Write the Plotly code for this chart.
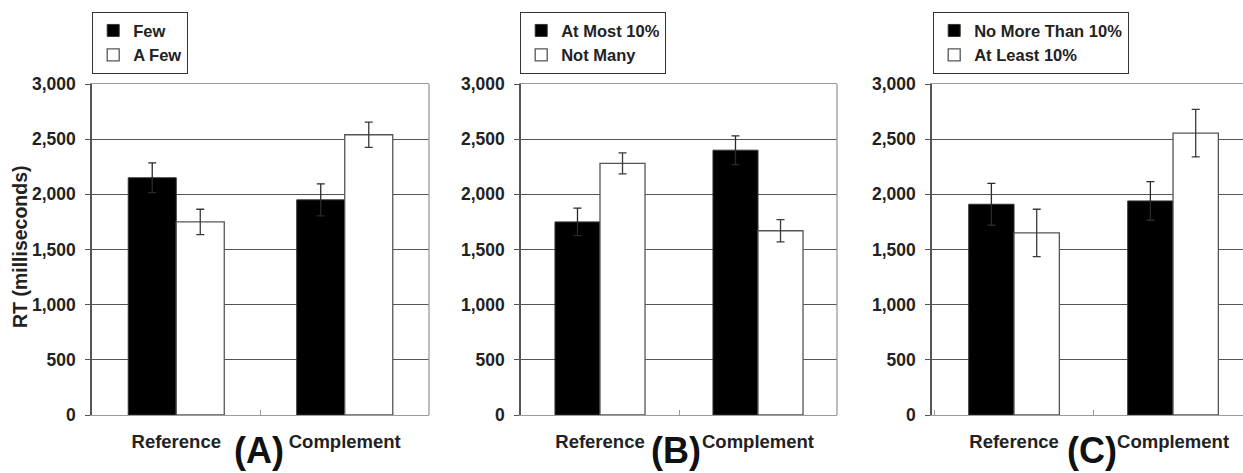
import plotly.graph_objects as go

W, H = 1243, 473

categories = ["Reference", "Complement"]

# Panel A
a_names = ["Few", "A Few"]
a_black = [2150, 1950]
a_black_err = [135, 145]
a_white = [1750, 2540]
a_white_err = [115, 115]

# Panel B
b_names = ["At Most 10%", "Not Many"]
b_black = [1750, 2400]
b_black_err = [125, 130]
b_white = [2280, 1670]
b_white_err = [95, 100]

# Panel C
c_names = ["No More Than 10%", "At Least 10%"]
c_black = [1910, 1940]
c_black_err = [190, 175]
c_white = [1650, 2555]
c_white_err = [215, 215]

panel_labels = ["(A)", "(B)", "(C)"]
y_title = "RT (milliseconds)"
y_ticks = [0, 500, 1000, 1500, 2000, 2500, 3000]

FONT = "Liberation Sans"
TXT = "#222222"
GRID = "#555555"
LIGHT = "#9a9a9a"

panels = [
    (a_names, a_black, a_black_err, a_white, a_white_err),
    (b_names, b_black, b_black_err, b_white, b_white_err),
    (c_names, c_black, c_black_err, c_white, c_white_err),
]

# pixel layout (left, right) of each plot area
px_domains = [(92, 429), (521, 837), (932, 1243)]
x_ranges = [[-0.5, 1.5], [-0.5, 1.5], [-0.516, 1.44]]
legend_px = [92, 520, 933]
label_px = [259, 676, 1092]

fig = go.Figure()

for i, (names, blk, blk_e, wht, wht_e) in enumerate(panels):
    xa = "x" if i == 0 else f"x{i+1}"
    ya = "y" if i == 0 else f"y{i+1}"
    lg = "legend" if i == 0 else f"legend{i+1}"
    fig.add_trace(go.Bar(
        x=categories, y=blk, name=names[0], xaxis=xa, yaxis=ya, legend=lg,
        marker=dict(color="black", line=dict(color="#333333", width=1)),
        error_y=dict(type="data", array=blk_e, visible=True, color="#2a2a2a",
                     thickness=1.3, width=4),
    ))
    fig.add_trace(go.Bar(
        x=categories, y=wht, name=names[1], xaxis=xa, yaxis=ya, legend=lg,
        marker=dict(color="white", line=dict(color="#555555", width=1.3)),
        error_y=dict(type="data", array=wht_e, visible=True, color="#3a3a3a",
                     thickness=1.3, width=4),
    ))

y_dom = [1 - 415 / H, 1 - 84 / H]
layout = dict(
    width=W, height=H,
    margin=dict(l=0, r=0, t=0, b=0),
    paper_bgcolor="white", plot_bgcolor="white",
    barmode="group", bargap=0.43, bargroupgap=0,
    showlegend=True,
    font=dict(family=FONT, size=17, color=TXT),
    annotations=[], shapes=[],
)

for i in range(3):
    sfx = "" if i == 0 else str(i + 1)
    l, r = px_domains[i]
    layout[f"xaxis{sfx}"] = dict(
        domain=[l / W, min(r / W, 1.0)], anchor=f"y{sfx}",
        range=x_ranges[i], type="category",
        showline=True, linecolor=LIGHT, linewidth=1.3, mirror=True,
        ticks="inside", ticklen=5, tickcolor=LIGHT, tickwidth=1.3,
        tickson="boundaries", showgrid=False, zeroline=False,
        tickfont=dict(family=FONT, size=18.5, color=TXT, weight="bold"),
        ticklabelstandoff=10, automargin=False, fixedrange=True,
    )
    layout[f"yaxis{sfx}"] = dict(
        domain=y_dom, anchor=f"x{sfx}", range=[0, 3000],
        tickvals=y_ticks, tickformat=",",
        showline=True, linecolor="#555555", linewidth=1.5, mirror=False,
        ticks="outside", ticklen=5, tickcolor="#555555", tickwidth=1.3,
        showgrid=True, gridcolor=GRID, gridwidth=1.4, zeroline=False,
        tickfont=dict(family=FONT, size=17.5, color=TXT, weight="bold"),
        ticklabelstandoff=6, automargin=False, fixedrange=True,
    )
    lg = "legend" if i == 0 else f"legend{i+1}"
    layout[lg] = dict(
        x=legend_px[i] / W, y=1 - 12 / H, xanchor="left", yanchor="top",
        bordercolor="#333333", borderwidth=1.2, bgcolor="white",
        font=dict(family=FONT, size=16.5, color=TXT, weight="bold"),
        itemwidth=30, tracegroupgap=0,
    )
    layout["annotations"].append(dict(
        text=panel_labels[i], xref="paper", yref="paper",
        x=label_px[i] / W, y=0, xanchor="center", yanchor="bottom",
        showarrow=False, font=dict(family=FONT, size=36, color="#111111", weight="bold"),
    ))
    if i < 2:
        layout["shapes"].append(dict(
            type="line", xref=f"x{sfx} domain", yref=f"y{sfx} domain",
            x0=1, x1=1, y0=0, y1=1, line=dict(color=LIGHT, width=1.3),
        ))

layout["annotations"].append(dict(
    text=y_title, xref="paper", yref="paper", x=20 / W, y=1 - 247 / H,
    xanchor="center", yanchor="middle", textangle=-90, showarrow=False,
    font=dict(family=FONT, size=19.5, color=TXT, weight="bold"),
))

fig.update_layout(**layout)
fig.write_html("out.html", config={"displayModeBar": False},
               post_script="document.body.style.margin='0';document.body.style.overflow='hidden';")
